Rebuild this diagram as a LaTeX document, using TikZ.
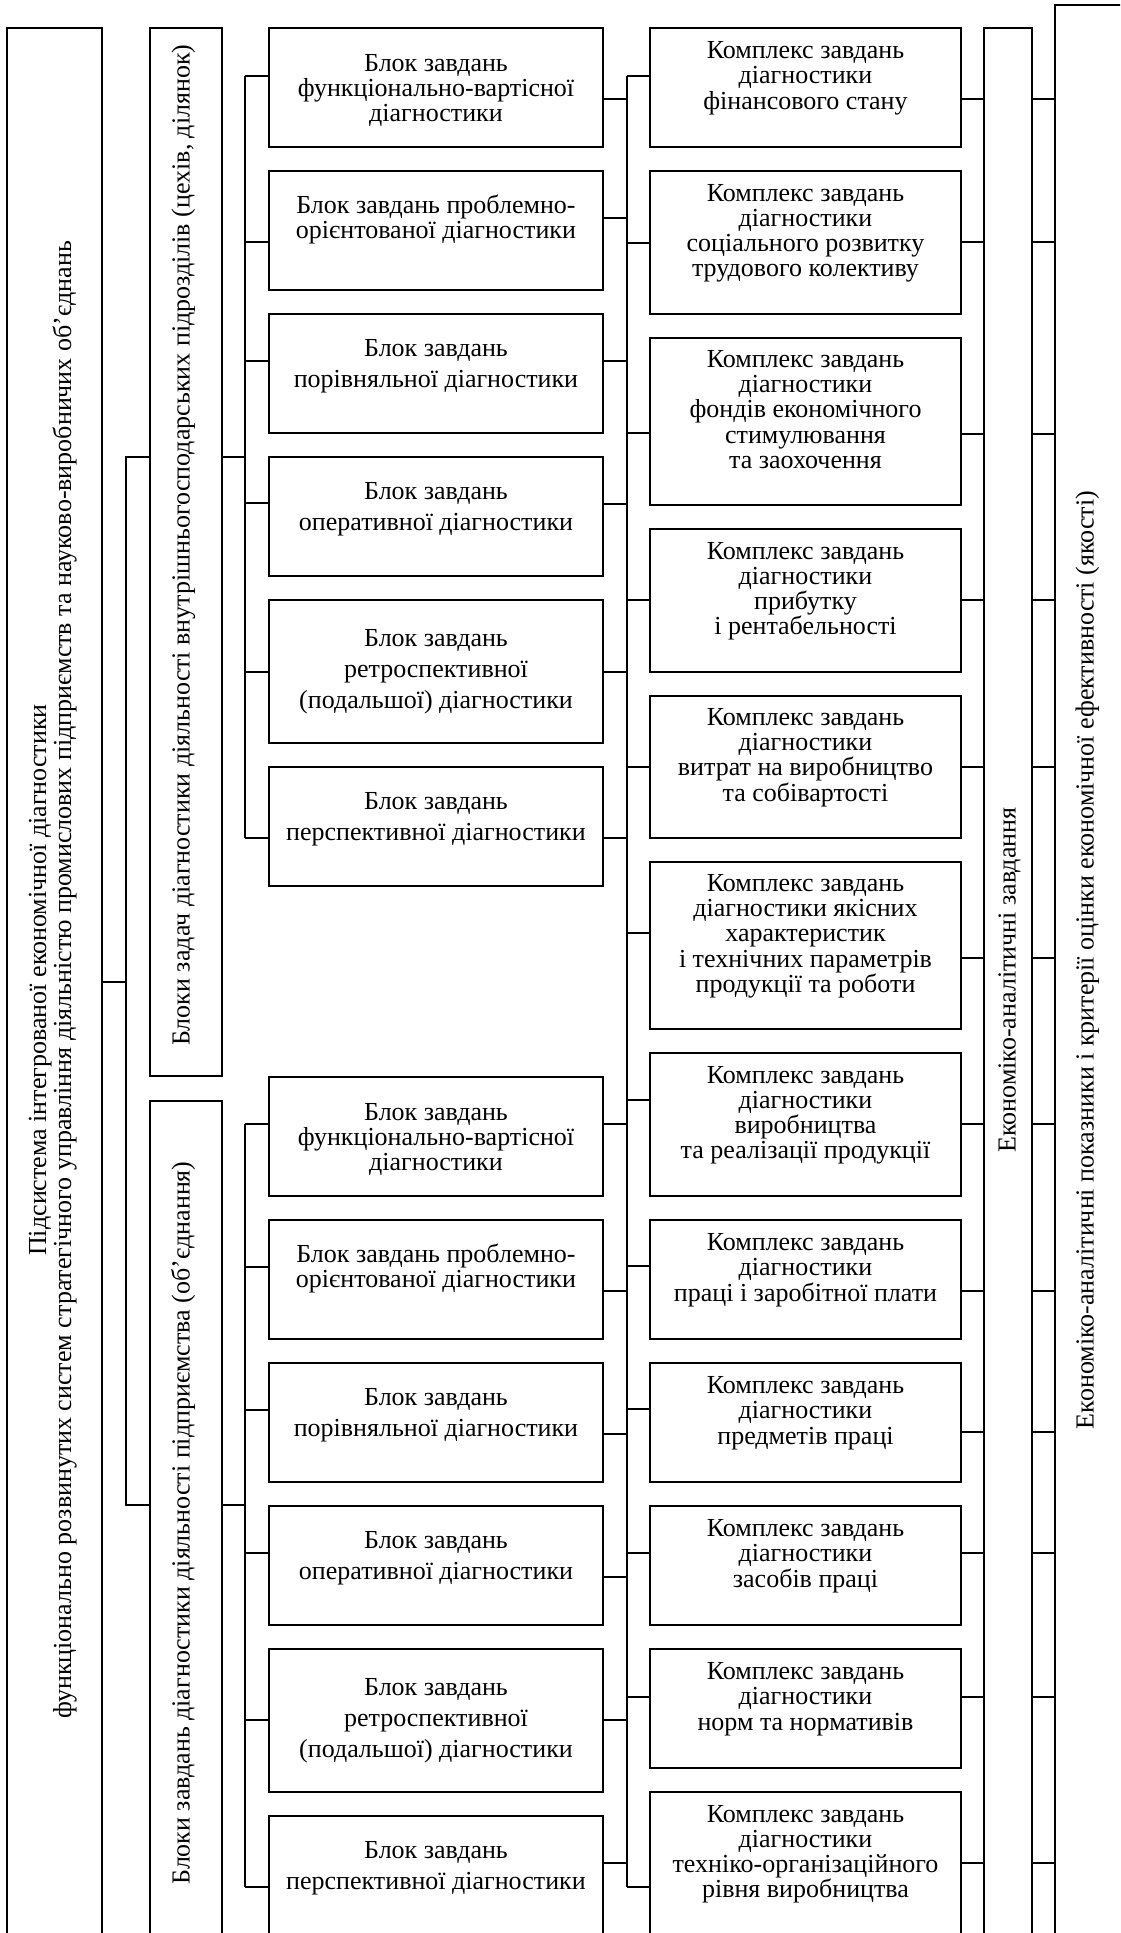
\documentclass[tikz,border=0pt]{standalone}
\usepackage{fontspec}
\setmainfont{Liberation Serif}
\usetikzlibrary{calc,fit}
\newcommand\mystrut{\rule[-0.28em]{0pt}{1em}}
\newcommand\fsz[1]{\fontsize{13pt}{#1}\selectfont\lineskiplimit=-50pt\relax}
\tikzset{
  box/.style={draw, line width=0.9pt, inner sep=0pt, outer sep=0pt},
  conn/.style={line width=0.75pt},
  ftxt/.style={inner sep=0pt, align=center, font=\fsz{12.4pt}},
  wtxt/.style={inner sep=0pt, align=center, font=\fsz{15.5pt}},
  ctxt/.style={align=center, font=\fsz{12.6pt}},
  rtxt/.style={inner sep=0pt, align=center, rotate=90, font=\fsz{12.5pt}},
}
\begin{document}
\begin{tikzpicture}[x=0.5pt,y=-0.5pt]
\useasboundingbox (0,0) rectangle (1120,1933);
\clip (0,0) rectangle (1120,1933);
% big columns
\node[box, fit={(7,28)(102,1975)}] (A) {};
\node[box, fit={(150,28)(222,1076)}] (B) {};
\node[box, fit={(150,1101)(222,1975)}] (C) {};
\node[box, fit={(984,28)(1032,1975)}] (D) {};
\node[box, fit={(1055,5)(1140,1975)}] (E) {};
\node[rtxt] (At) at (53,980) {\mystrut Підсистема інтегрованої економічної діагностики\\\mystrut функціонально розвинутих систем стратегічного управління діяльністю промислових підприємств та науково-виробничих об’єднань};
\node[rtxt] (Bt) at (184,545) {\mystrut Блоки задач діагностики діяльності внутрішньогосподарських підрозділів (цехів, ділянок)};
\node[rtxt] (Ct) at (184,1523) {\mystrut Блоки завдань діагностики діяльності підприємства (об’єднання)};
\node[rtxt] (Dt) at (1010,980) {\mystrut Економіко-аналітичні завдання};
\node[rtxt] (Et) at (1088,960) {\mystrut Економіко-аналітичні показники і критерії оцінки економічної ефективності (якості)};
% block boxes
\foreach \n/\ya/\yb in {ub1/28/147, ub2/171/290, ub3/314/433, ub4/457/576, ub5/600/743, ub6/767/886,
  lb1/1077/1196, lb2/1220/1339, lb3/1363/1482, lb4/1506/1625, lb5/1649/1792, lb6/1816/1935}
  \node[box, fit={(269,\ya)(603,\yb)}] (\n) {};
\foreach \p in {ub,lb}{
  \node[ftxt] (\p1t) at ($(\p1.center)+(0,3)$) {\mystrut Блок завдань\\\mystrut функціонально-вартісної\\\mystrut діагностики};
  \node[ftxt] (\p2t) at ($(\p2.center)+(0,-10)$) {\mystrut Блок завдань проблемно-\\\mystrut орієнтованої діагностики};
  \node[wtxt] (\p3t) at ($(\p3.center)+(0,-7)$) {\mystrut Блок завдань\\\mystrut порівняльної діагностики};
  \node[wtxt] (\p4t) at ($(\p4.center)+(0,-7)$) {\mystrut Блок завдань\\\mystrut оперативної діагностики};
  \node[wtxt] (\p5t) at (\p5.center) {\mystrut Блок завдань\\\mystrut ретроспективної\\\mystrut (подальшої) діагностики};
  \node[wtxt] (\p6t) at ($(\p6.center)+(0,-7)$) {\mystrut Блок завдань\\\mystrut перспективної діагностики};
}
% complex boxes
\node[box, ctxt, fit={(650,28)(961,147)}] (c1) {\mystrut Комплекс завдань\\\mystrut діагностики\\\mystrut фінансового стану};
\node[box, ctxt, fit={(650,171)(961,314)}] (c2) {\mystrut Комплекс завдань\\\mystrut діагностики\\\mystrut соціального розвитку\\\mystrut трудового колективу};
\node[box, ctxt, fit={(650,338)(961,505)}] (c3) {\mystrut Комплекс завдань\\\mystrut діагностики\\\mystrut фондів економічного\\\mystrut стимулювання\\\mystrut та заохочення};
\node[box, ctxt, fit={(650,529)(961,672)}] (c4) {\mystrut Комплекс завдань\\\mystrut діагностики\\\mystrut прибутку\\\mystrut і рентабельності};
\node[box, ctxt, fit={(650,696)(961,838)}] (c5) {\mystrut Комплекс завдань\\\mystrut діагностики\\\mystrut витрат на виробництво\\\mystrut та собівартості};
\node[box, ctxt, fit={(650,862)(961,1029)}] (c6) {\mystrut Комплекс завдань\\\mystrut діагностики якісних\\\mystrut характеристик\\\mystrut і технічних параметрів\\\mystrut продукції та роботи};
\node[box, ctxt, fit={(650,1053)(961,1196)}] (c7) {\mystrut Комплекс завдань\\\mystrut діагностики\\\mystrut виробництва\\\mystrut та реалізації продукції};
\node[box, ctxt, fit={(650,1220)(961,1339)}] (c8) {\mystrut Комплекс завдань\\\mystrut діагностики\\\mystrut праці і заробітної плати};
\node[box, ctxt, fit={(650,1363)(961,1482)}] (c9) {\mystrut Комплекс завдань\\\mystrut діагностики\\\mystrut предметів праці};
\node[box, ctxt, fit={(650,1506)(961,1625)}] (c10) {\mystrut Комплекс завдань\\\mystrut діагностики\\\mystrut засобів праці};
\node[box, ctxt, fit={(650,1649)(961,1768)}] (c11) {\mystrut Комплекс завдань\\\mystrut діагностики\\\mystrut норм та нормативів};
\node[box, ctxt, fit={(650,1792)(961,1935)}] (c12) {\mystrut Комплекс завдань\\\mystrut діагностики\\\mystrut техніко-організаційного\\\mystrut рівня виробництва};
% spines
\coordinate (spA) at (126,0);
\coordinate (spU) at (245,0);
\coordinate (spM) at (627,0);
\draw[conn] (A.east |- 0,982) -- (spA |- 0,982);
\draw[conn] (B.west |- 0,457) -- (spA |- 0,457) -- (spA |- 0,1505) -- (C.west |- 0,1505);
\draw[conn] (B.east |- 0,457) -- (spU |- 0,457);
\draw[conn] (C.east |- 0,1505) -- (spU |- 0,1505);
\draw[conn] (spU |- 0,76) -- (spU |- 0,838);
\draw[conn] (spU |- 0,1124) -- (spU |- 0,1887);
\draw[conn] (spM |- 0,76) -- (spM |- 0,1887);
\foreach \n/\y in {ub1/76, ub2/242, ub3/361, ub4/503, ub5/672, ub6/838,
  lb1/1124, lb2/1267, lb3/1410, lb4/1553, lb5/1720, lb6/1887}
  \draw[conn] (spU |- 0,\y) -- (\n.west |- 0,\y);
\foreach \n/\y in {ub1/99, ub2/218, ub3/361, ub4/504, ub5/672, ub6/838,
  lb1/1124, lb2/1291, lb3/1434, lb4/1577, lb5/1720, lb6/1863}
  \draw[conn] (\n.east |- 0,\y) -- (spM |- 0,\y);
\foreach \n/\y in {c1/76, c2/243, c3/433, c4/600, c5/767, c6/933, c7/1100,
  c8/1266, c9/1409, c10/1553, c11/1697, c12/1887}
  \draw[conn] (spM |- 0,\y) -- (\n.west |- 0,\y);
\foreach \n/\y in {c1/99, c2/242, c3/434, c4/600, c5/767, c6/958, c7/1124,
  c8/1291, c9/1432, c10/1553, c11/1697, c12/1863}{
  \draw[conn] (\n.east |- 0,\y) -- (D.west |- 0,\y);
  \draw[conn] (D.east |- 0,\y) -- (E.west |- 0,\y);
}
\end{tikzpicture}
\end{document}
